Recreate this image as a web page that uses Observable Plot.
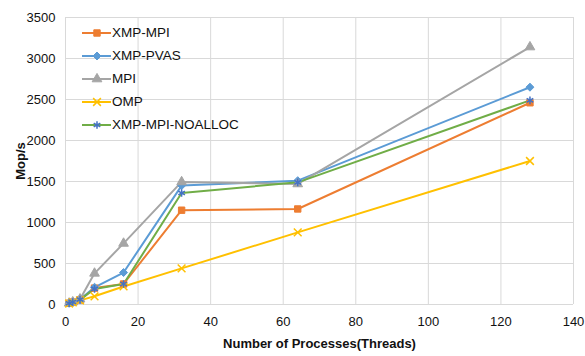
<!DOCTYPE html>
<html>
<head>
<meta charset="utf-8">
<script src="https://cdn.jsdelivr.net/npm/d3@7"></script>
<script src="https://cdn.jsdelivr.net/npm/@observablehq/plot@0.6"></script>
<style>
  body { margin: 0; background: #fff; font-family: "Liberation Sans", Arial, Helvetica, sans-serif; }
  #wrap { position: relative; width: 585px; height: 356px; }
  #legend { position: absolute; left: 82px; top: 21px; font-size: 13.5px; color: #111; }
  #legend .row { display: flex; align-items: center; height: 23px; }
  #legend svg { display: block; margin-right: 1px; }
  g[aria-label="x-axis label"] text, g[aria-label="y-axis label"] text { font-weight: bold; font-size: 13px; }
</style>
</head>
<body>
<div id="wrap"><div id="legend"></div></div>
<script>
const threads = [1, 2, 4, 8, 16, 32, 64, 128];
const seriesNames = ["XMP-MPI", "XMP-PVAS", "MPI", "OMP", "XMP-MPI-NOALLOC"];
const xmpMpi     = [15, 30, 55, 200, 250, 1150, 1165, 2460];
const xmpPvas    = [15, 30, 60, 210, 390, 1450, 1510, 2650];
const mpi        = [15, 30, 65, 380, 745, 1495, 1470, 3140];
const omp        = [12, 25, 50, 100, 220, 440, 880, 1750];
const xmpNoalloc = [15, 30, 60, 190, 250, 1360, 1490, 2490];
const xTicks = [0, 20, 40, 60, 80, 100, 120, 140];
const yTicks = [0, 500, 1000, 1500, 2000, 2500, 3000, 3500];

const colors = ["#ED7D31", "#5B9BD5", "#A5A5A5", "#FFC000", "#70AD47"];
const symbols = ["square", "diamond2", "triangle", "times", "asterisk"];
const markFill = ["#ED7D31", "#5B9BD5", "#A5A5A5", "none", "none"];
const markStroke = ["#ED7D31", "#5B9BD5", "#A5A5A5", "#FFC000", "#4472C4"];
const values = [xmpMpi, xmpPvas, mpi, omp, xmpNoalloc];

const rows = [];
seriesNames.forEach((s, i) => threads.forEach((t, j) => rows.push({series: s, idx: i, x: t, y: values[i][j]})));

const marks = [
  Plot.gridX(xTicks, {stroke: "#d9d9d9", strokeOpacity: 1, strokeWidth: 1}),
  Plot.gridY(yTicks, {stroke: "#d9d9d9", strokeOpacity: 1, strokeWidth: 1}),
  Plot.axisX(xTicks, {tickSize: 0, tickPadding: 12, fontSize: 13, tickFormat: d => String(d), label: "Number of Processes(Threads)", labelArrow: "none", labelAnchor: "center", labelOffset: 43}),
  Plot.axisY(yTicks, {tickSize: 0, tickPadding: 10, fontSize: 13, tickFormat: d => String(d), label: "Mop/s", labelArrow: "none", labelAnchor: "center", labelOffset: 50}),
];
seriesNames.forEach((s, i) => {
  const d = rows.filter(r => r.idx === i);
  marks.push(Plot.line(d, {x: "x", y: "y", stroke: colors[i], strokeWidth: 2}));
});
seriesNames.forEach((s, i) => {
  const d = rows.filter(r => r.idx === i);
  marks.push(Plot.dot(d, {x: "x", y: "y", symbol: () => symbols[i], r: 3.6, fill: markFill[i], stroke: markStroke[i], strokeWidth: markFill[i] === "none" ? 1.5 : 1}));
});

const chart = Plot.plot({
  width: 585, height: 356,
  marginLeft: 65, marginRight: 12, marginTop: 17, marginBottom: 52,
  style: {fontFamily: '"Liberation Sans", Arial, Helvetica, sans-serif', fontSize: "13px", color: "#111", background: "#fff"},
  x: {domain: [0, 140]},
  y: {domain: [0, 3500]},
  marks
});
document.getElementById("wrap").prepend(chart);

const legend = d3.select("#legend");
const d3sym = {square: d3.symbolSquare, diamond2: d3.symbolDiamond2, triangle: d3.symbolTriangle, times: d3.symbolTimes, asterisk: d3.symbolAsterisk};
seriesNames.forEach((s, i) => {
  const row = legend.append("div").attr("class", "row");
  const svg = row.append("svg").attr("width", 29).attr("height", 14);
  svg.append("line").attr("x1", 0).attr("x2", 29).attr("y1", 7).attr("y2", 7).attr("stroke", colors[i]).attr("stroke-width", 2);
  svg.append("path").attr("transform", "translate(15,7)")
    .attr("d", d3.symbol(d3sym[symbols[i]], 3.6 * 3.6 * Math.PI)())
    .attr("fill", markFill[i]).attr("stroke", markStroke[i]).attr("stroke-width", markFill[i] === "none" ? 1.5 : 1);
  row.append("span").text(s);
});
</script>
</body>
</html>
